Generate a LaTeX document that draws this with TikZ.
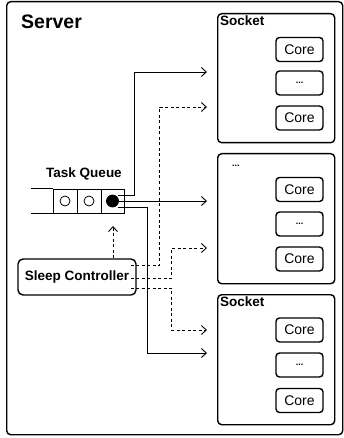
\documentclass[tikz,border=0pt]{standalone}
\usepackage{fontspec}
\setmainfont{Liberation Sans}
\usetikzlibrary{arrows.meta,calc}
\begin{document}
\begin{tikzpicture}[x=1pt,y=-1pt,
  box/.style={draw,line width=1.4pt,rounded corners=4pt,inner sep=0pt,anchor=north west},
  corebox/.style={draw,line width=1.4pt,rounded corners=3.5pt,inner sep=0pt,minimum width=47pt,minimum height=24pt,font=\fontsize{14}{15}\selectfont},
  dotsbox/.style={corebox,font=\bfseries\fontsize{9}{10}\selectfont},
  lbl/.style={inner sep=0pt,anchor=north west,font=\bfseries\fontsize{13.5}{15}\selectfont},
  cell/.style={draw,line width=0.8pt,inner sep=0pt,minimum width=24pt,minimum height=24pt},
  conn/.style={line width=0.8pt,-{Straight Barb[length=5pt,width=9pt,line width=0.9pt]}},
  dconn/.style={conn,dash pattern=on 3pt off 2.5pt}]
\useasboundingbox (0,0) rectangle (344,438);
% server
\node[box,minimum width=336pt,minimum height=433pt] (server) at (6,1) {};
\node[inner sep=0pt,anchor=north west,font=\bfseries\fontsize{19.5}{21}\selectfont] (servert) at (21,15) {Server};
% sockets
\node[box,minimum width=117pt,minimum height=129pt] (sock1) at (217,13) {};
\node[box,minimum width=117pt,minimum height=130pt] (sock2) at (217,153) {};
\node[box,minimum width=117pt,minimum height=130pt] (sock3) at (217,294) {};
\node[lbl] (sock1t) at (220,16) {Socket};
\node[inner sep=0pt,anchor=base west,font=\bfseries\fontsize{9}{10}\selectfont] (sock2t) at (232,167) {...};
\node[lbl] (sock3t) at (220,297) {Socket};
% cores
\node[corebox] (c11) at (299.5,49.5) {Core};
\node[dotsbox] (c12) at (299.5,83) {...};
\node[corebox] (c13) at (299.5,118) {Core};
\node[corebox] (c21) at (299.5,189.5) {Core};
\node[dotsbox] (c22) at (299.5,224) {...};
\node[corebox] (c23) at (299.5,259) {Core};
\node[corebox] (c31) at (299.5,330) {Core};
\node[dotsbox] (c32) at (299.5,365) {...};
\node[corebox] (c33) at (299.5,400.5) {Core};
% task queue
\node[inner sep=0pt,font=\bfseries\fontsize{13.5}{15}\selectfont] (tqt) at (84,174) {Task Queue};
\node[cell] (q1) at (65,201) {};
\node[cell] (q2) at (89,201) {};
\node[cell,minimum width=23pt] (q3) at (112.5,201) {};
\draw[line width=0.8pt] (q1.north west) -- ++(-22,0);
\draw[line width=0.8pt] (q1.south west) -- ++(-22,0);
\node[draw,circle,line width=0.8pt,minimum size=10pt,inner sep=0pt] (o1) at (q1.center) {};
\node[draw,circle,line width=0.8pt,minimum size=10pt,inner sep=0pt] (o2) at (q2.center) {};
\node[draw,fill=black,circle,line width=0.8pt,minimum size=12pt,inner sep=0pt] (o3) at (q3.center) {};
% sleep controller
\node[draw,line width=1.4pt,rounded corners=5pt,minimum width=118pt,minimum height=36pt,inner sep=0pt,font=\bfseries\fontsize{13.5}{15}\selectfont] (sc) at (77,277) {Sleep Controller};
% arrow targets
\coordinate (s1a) at (207,72);
\coordinate (s1b) at (207,107);
\coordinate (s2a) at (207,201);
\coordinate (s2b) at (207,248);
\coordinate (s3a) at (207,330);
\coordinate (s3b) at (207,353);
\coordinate (qin) at (113,226);
% solid connectors
\draw[conn] ($(o3.center)+(5,-6)$) -- ++(17,0) |- (s1a);
\draw[conn] ($(o3.center)+(5,0)$) -- (s2a);
\draw[conn] ($(o3.center)+(5,6)$) -- ++(30,0) |- (s3b);
% dashed connectors
\draw[dconn] (sc.north -| qin) -- (qin);
\draw[dconn] ($(sc.east)+(-6,-12)$) -- ++(29,0) |- (s1b);
\draw[dconn] ($(sc.east)+(-6,1)$) -- ++(41,0) |- (s2b);
\draw[dconn] ($(sc.east)+(-6,11)$) -- ++(41,0) |- (s3a);
\end{tikzpicture}
\end{document}
